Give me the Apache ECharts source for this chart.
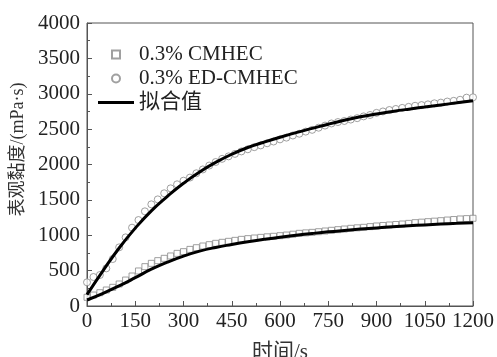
<!DOCTYPE html>
<html>
<head>
<meta charset="utf-8">
<script src="https://cdn.jsdelivr.net/npm/echarts@6/dist/echarts.min.js"></script>
<style>
  html, body { margin: 0; padding: 0; background: #fff; }
  #chart { width: 497px; height: 357px; }
</style>
</head>
<body>
<div id="chart"></div>
<script>
// measured points, one every 20 s
const sampleTimes = [
  0, 20, 40, 60, 80, 100, 120, 140, 160, 180, 200, 220, 240, 260, 280, 300,
  320, 340, 360, 380, 400, 420, 440, 460, 480, 500, 520, 540, 560, 580, 600,
  620, 640, 660, 680, 700, 720, 740, 760, 780, 800, 820, 840, 860, 880, 900,
  920, 940, 960, 980, 1000, 1020, 1040, 1060, 1080, 1100, 1120, 1140, 1160, 1180, 1200
];
const cmhec = [
  123, 155, 188, 226, 264, 311, 367, 424, 495, 556, 603, 641, 674, 707, 744, 768,
  800, 824, 848, 867, 886, 900, 914, 928, 942, 952, 961, 970, 978, 985, 994,
  1003, 1015, 1027, 1034, 1041, 1050, 1060, 1070, 1079, 1088, 1098, 1105, 1112, 1122, 1131,
  1138, 1145, 1152, 1159, 1168, 1178, 1185, 1192, 1199, 1206, 1215, 1222, 1230, 1235, 1240
];
const edCmhec = [
  335, 410, 438, 532, 664, 829, 970, 1107, 1215, 1338, 1437, 1507, 1593, 1663, 1720, 1771,
  1815, 1876, 1930, 1985, 2035, 2080, 2115, 2150, 2185, 2215, 2245, 2270, 2300, 2325, 2355,
  2380, 2410, 2435, 2465, 2490, 2520, 2550, 2580, 2600, 2615, 2635, 2655, 2680, 2700, 2730,
  2750, 2770, 2785, 2800, 2815, 2830, 2840, 2850, 2865, 2875, 2890, 2900, 2915, 2945, 2950
];

// fitted curves, read every 50 s
const fitTimes = [
  0, 50, 100, 150, 200, 250, 300, 350, 400, 450, 500, 550, 600,
  650, 700, 750, 800, 850, 900, 950, 1000, 1050, 1100, 1150, 1200
];
const fitCmhec = [
  85, 180, 285, 400, 520, 620, 705, 775, 828, 870, 908, 942, 973,
  1000, 1025, 1048, 1068, 1087, 1104, 1119, 1133, 1146, 1158, 1168, 1178
];
const fitEd = [
  160, 500, 820, 1100, 1345, 1550, 1735, 1895, 2030, 2145, 2240, 2315, 2385,
  2450, 2510, 2570, 2625, 2675, 2715, 2750, 2782, 2812, 2842, 2872, 2902
];

const font = '"Liberation Serif", "Noto Sans CJK SC", serif';
const pairs = (xs, ys) => xs.map((x, i) => [x, ys[i]]);
const plain = (v) => String(v);

const chart = echarts.init(document.getElementById('chart'));

chart.setOption({
  animation: false,
  backgroundColor: '#fff',
  grid: {
    left: 87,
    right: 24,
    top: 23,
    bottom: 51,
    outerBoundsMode: 'none',
    show: true,
    borderColor: '#555',
    borderWidth: 1,
  },
  legend: {
    orient: 'vertical',
    left: 93,
    top: 39,
    itemWidth: 36,
    itemHeight: 8,
    itemGap: 3,
    data: [
      { name: '0.3% CMHEC', icon: 'path://M0 0H10V10H0Z' },
      { name: '0.3% ED-CMHEC', icon: 'circle' },
      { name: '拟合值', icon: 'path://M0 0H36V3H0Z' },
    ],
    textStyle: { fontFamily: font, fontSize: 21, color: '#222', lineHeight: 19 },
  },
  xAxis: {
    type: 'value',
    min: 0,
    max: 1200,
    interval: 150,
    name: '时间/s',
    nameLocation: 'middle',
    nameGap: 36,
    nameTextStyle: { fontFamily: font, fontSize: 21, color: '#333' },
    axisLine: { lineStyle: { color: '#555' } },
    axisTick: { inside: true, length: 5, lineStyle: { color: '#555' } },
    minorTick: { show: true, splitNumber: 2, length: 3, lineStyle: { color: '#555' } },
    axisLabel: { fontFamily: font, fontSize: 21, color: '#222', margin: 5, formatter: plain },
    splitLine: { show: false },
  },
  yAxis: {
    type: 'value',
    min: 0,
    max: 4000,
    interval: 500,
    name: '表观黏度/(mPa·s)',
    nameLocation: 'middle',
    nameGap: 46,
    nameTextStyle: { fontFamily: font, fontSize: 18, color: '#333', padding: [0, 0, 0, 30] },
    axisLine: { show: true, lineStyle: { color: '#555' } },
    axisTick: { show: true, inside: true, length: 5, lineStyle: { color: '#555' } },
    minorTick: { show: true, splitNumber: 2, length: 3, lineStyle: { color: '#555' } },
    axisLabel: { fontFamily: font, fontSize: 21, color: '#222', margin: 7, formatter: plain },
    splitLine: { show: false },
  },
  series: [
    {
      name: '0.3% CMHEC',
      type: 'scatter',
      symbol: 'rect',
      symbolSize: 6,
      itemStyle: { color: '#fff', borderColor: '#888', borderWidth: 1 },
      data: pairs(sampleTimes, cmhec),
    },
    {
      name: '0.3% ED-CMHEC',
      type: 'scatter',
      symbol: 'circle',
      symbolSize: 7,
      itemStyle: { color: '#fff', borderColor: '#888', borderWidth: 1 },
      data: pairs(sampleTimes, edCmhec),
    },
    {
      name: '拟合值',
      type: 'line',
      smooth: true,
      symbol: 'none',
      color: '#000',
      lineStyle: { color: '#000', width: 3 },
      data: pairs(fitTimes, fitCmhec),
    },
    {
      name: '拟合值',
      type: 'line',
      smooth: true,
      symbol: 'none',
      color: '#000',
      lineStyle: { color: '#000', width: 3 },
      data: pairs(fitTimes, fitEd),
    },
  ],
});
</script>
</body>
</html>
